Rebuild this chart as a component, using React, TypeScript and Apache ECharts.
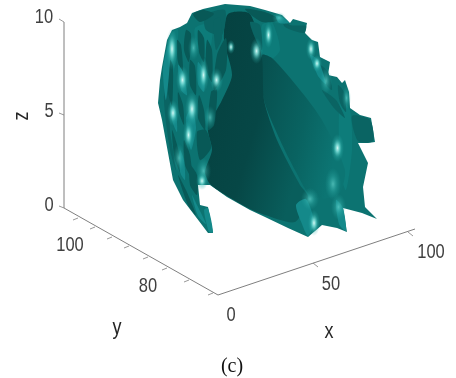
import React, { useEffect, useRef } from "react";
import * as echarts from "echarts";

type P = number[][];

// Axis geometry, on the picture plane of the 3-D view
const zAxisLine: P = [[64, 22], [64, 208]];
const yAxisLine: P = [[64, 208], [218, 295]];
const xAxisLine: P = [[218, 295], [415, 229]];
const zTicks: P[] = [[[59, 19], [64, 22]], [[59, 113], [64, 115]], [[59, 206], [64, 208]]];
const yTicks: P[] = [
  [[73, 220], [78, 218]], [[90, 229], [95, 227]], [[107, 239], [112, 237]], [[124, 248], [129, 246]],
  [[143, 259], [148, 257]], [[162, 270], [167, 268]], [[184, 282], [189, 280]], [[208, 295], [213, 293]],
];
const xTicks: P[] = [[[313, 263], [318, 267]], [[408, 232], [413, 236]]];

const tickLabels: [string, number, number][] = [
  ["10", 44, 17], ["5", 49, 111], ["0", 49, 205], ["100", 70, 245], ["80", 148, 286],
  ["0", 231, 315], ["50", 331, 284], ["100", 431, 252],
];
const axisNames: [string, number, number][] = [["x", 329, 330], ["y", 117, 326]];

// Isosurface outline and shaded facets
const silhouette: P[] = [[
  [158, 103], [160, 80], [162, 67], [167, 40], [172, 30], [180, 27], [187, 23], [192, 13], [203, 9], [225, 4], [250, 6],
  [265, 10], [282, 15], [290, 23], [293, 19], [307, 23], [305, 33], [312, 40], [318, 42], [320, 57], [330, 62], [328, 75],
  [337, 77], [342, 83], [345, 80], [349, 92], [350, 108], [360, 115], [371, 118], [375, 142], [368, 143], [358, 143],
  [368, 163], [363, 187], [365, 207], [377, 219], [362, 213], [343, 208], [347, 232], [337, 228], [322, 225], [308, 237],
  [288, 228], [265, 217], [250, 210], [227, 197], [210, 185], [198, 185], [200, 205], [208, 207], [213, 233], [208, 233],
  [202, 225], [183, 200], [173, 180], [162, 120],
]];
const mainLobe: P[] = [
  [[224, 40], [228, 14], [250, 14], [262, 58], [264, 100], [277, 140], [300, 185], [308, 197], [295, 222], [265, 215], [250, 209], [227, 196], [210, 184], [205, 172], [212, 150], [208, 128], [222, 100], [232, 75]],
];
const sideLobe: P[] = [
  [[262, 55], [272, 58], [300, 90], [322, 120], [345, 170], [338, 195], [312, 197], [296, 172], [280, 140], [264, 100]],
];
const deepFacets: P[] = [
  [[193, 14], [203, 10], [214, 14], [200, 22]],
  [[245, 9], [265, 12], [280, 20], [262, 22]],
  [[186, 30], [191, 34], [189, 62], [184, 50]],
  [[177, 40], [181, 45], [183, 72], [178, 62]],
  [[170, 60], [173, 66], [172, 105], [168, 92]],
  [[190, 60], [195, 66], [196, 95], [190, 85]],
  [[198, 30], [204, 38], [204, 62], [199, 52]],
  [[207, 40], [212, 50], [212, 82], [206, 68]],
  [[199, 95], [204, 110], [205, 130], [198, 118]],
  [[211, 92], [217, 90], [214, 125], [208, 130]],
  [[178, 92], [183, 105], [184, 125], [179, 112]],
  [[172, 130], [178, 148], [182, 175], [175, 160]],
  [[184, 140], [190, 155], [192, 178], [185, 165]],
  [[197, 132], [206, 130], [211, 148], [200, 160]],
  [[178, 175], [186, 190], [196, 215], [188, 205]],
  [[190, 165], [197, 175], [197, 195], [190, 185]],
  [[217, 55], [226, 38], [226, 70], [214, 90]],
];
const darkFacets: P[] = [
  [[205, 15], [225, 10], [222, 35], [206, 30]],
  [[282, 17], [290, 25], [306, 26], [304, 33], [285, 27]],
  [[164, 100], [168, 60], [170, 90], [170, 130], [176, 170], [170, 150]],
  [[322, 90], [336, 100], [345, 118], [334, 108]],
  [[352, 116], [370, 120], [373, 141], [358, 141]],
  [[214, 20], [220, 18], [222, 38], [216, 50]],
  [[250, 22], [260, 25], [262, 50], [255, 38]],
  [[338, 85], [344, 92], [346, 112], [340, 103]],
  [[320, 65], [328, 72], [332, 90], [324, 82]],
];
const midFacets: P[] = [
  [[262, 25], [272, 22], [280, 50], [270, 60], [262, 52]],
  [[170, 35], [178, 29], [176, 60], [170, 85], [166, 60]],
  [[195, 28], [212, 24], [208, 58], [198, 50]],
  [[340, 100], [350, 110], [352, 150], [346, 190], [340, 170]],
];
const lightFacets: P[] = [
  [[163, 70], [168, 45], [170, 60], [166, 100]],
  [[178, 65], [183, 72], [187, 95], [181, 90]],
  [[198, 62], [204, 72], [204, 92], [198, 84]],
  [[172, 106], [176, 112], [177, 132], [172, 120]],
  [[186, 118], [192, 108], [196, 128], [191, 150]],
  [[180, 150], [184, 160], [185, 180], [180, 172]],
  [[192, 195], [197, 205], [206, 224], [198, 216]],
  [[310, 55], [318, 60], [326, 84], [318, 76]],
  [[204, 210], [208, 208], [213, 232], [209, 232]],
  [[336, 200], [343, 208], [346, 231], [339, 224]],
  [[296, 205], [306, 199], [314, 222], [308, 236], [302, 224]],
  [[276, 16], [284, 18], [289, 23], [279, 23]],
];
const strongGlints: P[] = [
  [[166, 28], [178, 70]], [[167, 100], [179, 126]], [[183, 120], [194, 150]], [[185, 92], [199, 126]],
  [[176, 66], [189, 94]], [[198, 58], [209, 92]], [[210, 68], [223, 92]], [[250, 38], [263, 64]],
  [[227, 40], [235, 54]], [[264, 22], [273, 48]], [[306, 38], [316, 60]], [[312, 55], [322, 72]],
  [[331, 134], [344, 162]], [[308, 210], [320, 236]], [[196, 172], [208, 190]],
];
const softGlints: P[] = [
  [[320, 68], [332, 94]], [[342, 86], [351, 110]], [[325, 168], [341, 200]], [[331, 194], [346, 220]],
  [[301, 188], [319, 210]], [[196, 158], [211, 184]], [[188, 36], [199, 60]], [[272, 12], [286, 24]],
  [[173, 144], [185, 172]], [[204, 106], [216, 129]],
];

const captionText = "(c)";

const App = () => {
  const ref = useRef<HTMLDivElement>(null);
  useEffect(() => {
    document.body.style.margin = "0";
    const chart = echarts.init(ref.current!, undefined, { renderer: "svg" });
    const facetSeries = (patches: P[], fill: any, smooth = 0.25) => ({
      type: "custom",
      coordinateSystem: "cartesian2d",
      silent: true,
      data: patches.map((_, i) => [i]),
      renderItem: (params: any, api: any) => ({
        type: "polygon",
        shape: { points: patches[params.dataIndex].map((p) => api.coord(p)), smooth },
        style: { fill },
      }),
    });
    const glintSeries = (rows: P[], stops: any[]) => ({
      type: "custom",
      coordinateSystem: "cartesian2d",
      silent: true,
      data: rows.map((_, i) => [i]),
      renderItem: (params: any, api: any) => {
        const [a, b] = rows[params.dataIndex];
        const p = api.coord(a);
        const q = api.coord(b);
        return {
          type: "rect",
          shape: { x: p[0], y: p[1], width: q[0] - p[0], height: q[1] - p[1] },
          style: { fill: new echarts.graphic.RadialGradient(0.5, 0.5, 0.5, stops) },
        };
      },
    });
    const lineSeries = (segments: P[], width: number) => ({
      type: "custom",
      coordinateSystem: "cartesian2d",
      silent: true,
      data: segments.map((_, i) => [i]),
      renderItem: (params: any, api: any) => ({
        type: "polyline",
        shape: { points: segments[params.dataIndex].map((p) => api.coord(p)) },
        style: { stroke: "#7f7f7f", lineWidth: width, fill: "none" },
      }),
    });
    const textSeries = (rows: [string, number, number][], font: string, size: number, color: string, scaleY: number, rotation = 0) => ({
      type: "custom",
      coordinateSystem: "cartesian2d",
      silent: true,
      data: rows.map((_, i) => [i]),
      renderItem: (params: any, api: any) => {
        const [t, x, y] = rows[params.dataIndex];
        const c = api.coord([x, y]);
        return {
          type: "text",
          x: c[0],
          y: c[1],
          scaleY,
          rotation,
          style: { text: t, fontFamily: font, fontSize: size, fill: color, align: "center", verticalAlign: "middle" },
        };
      },
    });
    chart.setOption({
      animation: false,
      backgroundColor: "#ffffff",
      grid: { left: 0, right: 0, top: 0, bottom: 0 },
      xAxis: { type: "value", min: 0, max: 456, show: false },
      yAxis: { type: "value", min: 0, max: 378, inverse: true, show: false },
      series: [
        lineSeries([zAxisLine, yAxisLine, xAxisLine], 1),
        lineSeries([...zTicks, ...yTicks, ...xTicks], 0.8),
        facetSeries(silhouette, "#0c7371", 0),
        facetSeries(midFacets, "#0d7c7a"),
        facetSeries(sideLobe, new echarts.graphic.LinearGradient(0, 0, 1, 0.4, [
          { offset: 0, color: "#074f4e" },
          { offset: 0.6, color: "#096361" },
          { offset: 1, color: "#0c7573" },
        ])),
        facetSeries(mainLobe, new echarts.graphic.LinearGradient(0, 0, 1, 0.6, [
          { offset: 0, color: "#05403f" },
          { offset: 0.6, color: "#064746" },
          { offset: 1, color: "#095e5c" },
        ])),
        facetSeries(darkFacets, "#0a6463"),
        facetSeries(deepFacets, "#085957"),
        facetSeries(lightFacets, "#14898a"),
        glintSeries(softGlints, [
          { offset: 0, color: "rgba(100,212,205,0.7)" },
          { offset: 0.5, color: "rgba(60,190,184,0.3)" },
          { offset: 1, color: "rgba(40,170,165,0)" },
        ]),
        glintSeries(strongGlints, [
          { offset: 0, color: "rgba(220,252,248,0.98)" },
          { offset: 0.3, color: "rgba(130,232,225,0.75)" },
          { offset: 0.65, color: "rgba(60,190,184,0.3)" },
          { offset: 1, color: "rgba(40,170,165,0)" },
        ]),
        textSeries(tickLabels, "Liberation Sans", 16.5, "#404040", 1.18),
        textSeries(axisNames, "Liberation Sans", 18, "#262626", 1.18),
        textSeries([["z", 20, 116]], "Liberation Sans", 18, "#262626", 1.18, Math.PI / 2),
        textSeries([[captionText, 232, 365]], "Liberation Serif", 20, "#111111", 1),
      ],
    });
    return () => chart.dispose();
  }, []);
  return <div ref={ref} style={{ position: "absolute", left: 0, top: 0, width: 456, height: 378, filter: "blur(0.45px)" }} />;
};

export default App;
